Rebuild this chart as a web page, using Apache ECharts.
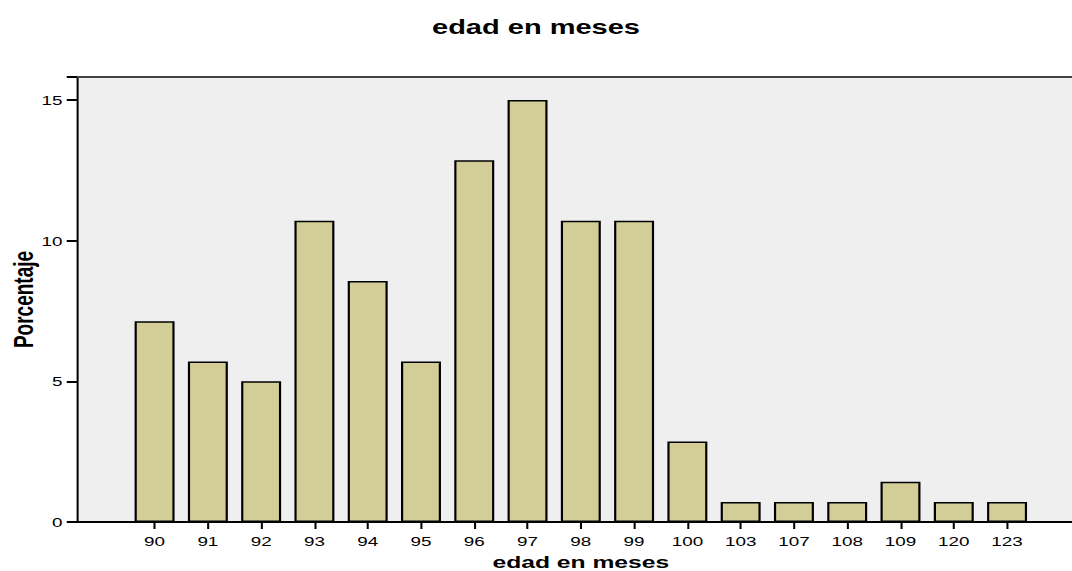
<!DOCTYPE html>
<html><head><meta charset="utf-8">
<script src="https://cdn.jsdelivr.net/npm/echarts@6/dist/echarts.min.js"></script>
<style>
html,body{margin:0;padding:0;background:#fff;overflow:hidden}
#wrap{width:1072px;height:571px;overflow:hidden}
/* the reference image is a horizontally stretched chart: draw at narrower width and stretch */
#c{width:739px;height:571px;transform:scaleX(1.4506);transform-origin:0 0}
</style>
</head><body><div id="wrap"><div id="c"></div></div>
<script>
const categories = ['90','91','92','93','94','95','96','97','98','99','100','103','107','108','109','120','123'];
const percentages = [7.14,5.71,5.00,10.71,8.57,5.71,12.86,15.00,10.71,10.71,2.86,0.71,0.71,0.71,1.43,0.71,0.71];
const yTicks = [0,5,10,15];

const YMAX = 15.82;
const font = 'Liberation Sans, Arial, sans-serif';
const chart = echarts.init(document.getElementById('c'), null, {renderer:'svg'});
chart.setOption({
  animation:false,
  title:{text:'edad en meses',left:'center',top:12,textStyle:{fontFamily:font,fontSize:20,fontWeight:'bold',color:'#000'}},
  grid:[
    {left:53,top:77,right:0,bottom:49,show:true,backgroundColor:'#efefef',borderWidth:0,outerBoundsMode:'none',containLabel:false},
    {left:88.2,top:77,right:26.4,bottom:49,outerBoundsMode:'none',containLabel:false}
  ],
  xAxis:[
    {gridIndex:0,type:'value',min:0,max:1,position:'bottom',axisLine:{show:true,lineStyle:{color:'#000',width:2}},axisTick:{show:false},axisLabel:{show:false},splitLine:{show:false}},
    {gridIndex:0,type:'value',min:0,max:1,position:'top',axisLine:{show:true,lineStyle:{color:'#444',width:2}},axisTick:{show:false},axisLabel:{show:false},splitLine:{show:false}},
    {gridIndex:1,type:'category',data:categories,axisLine:{show:false},
     axisTick:{show:true,alignWithLabel:true,length:7,lineStyle:{color:'#000',width:1.4}},
     axisLabel:{fontFamily:font,fontSize:13,color:'#000',margin:13,interval:0},
     name:'edad en meses',nameLocation:'middle',nameGap:31,nameTextStyle:{fontFamily:font,fontSize:17,fontWeight:'bold',color:'#000',lineHeight:17}}
  ],
  yAxis:[
    {gridIndex:0,type:'value',min:0,max:YMAX,interval:5,
     axisLine:{show:true,lineStyle:{color:'#000',width:1.4}},
     axisTick:{show:true,length:7,lineStyle:{color:'#000',width:2}},
     axisLabel:{fontFamily:font,fontSize:13,color:'#000',margin:10,formatter:v=>yTicks.includes(v)?String(v):''},
     splitLine:{show:false},
     name:'Porcentaje',nameLocation:'middle',nameGap:27,nameMoveOverlap:false,nameTextStyle:{fontFamily:font,fontSize:19,fontWeight:'bold',color:'#000',lineHeight:19}},
    {gridIndex:1,type:'value',min:0,max:YMAX,show:false,splitLine:{show:false}}
  ],
  series:[{
    type:'bar',xAxisIndex:2,yAxisIndex:1,data:percentages,barWidth:'75%',
    itemStyle:{color:'#d3ce97',borderColor:'#000',borderWidth:1.5}
  }]
});
</script></body></html>
